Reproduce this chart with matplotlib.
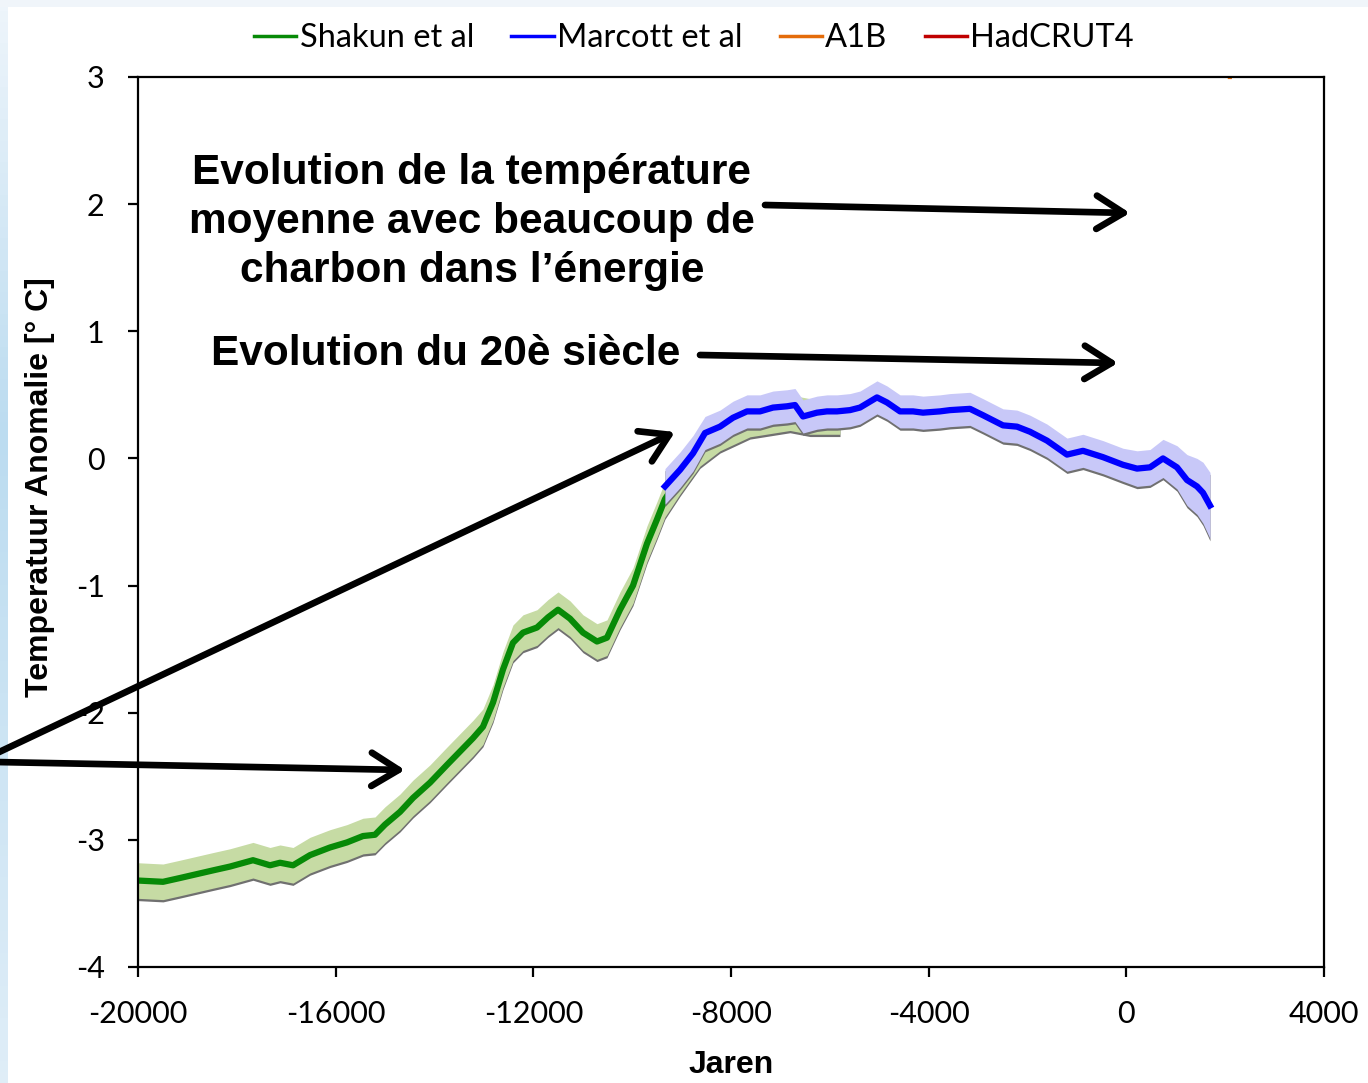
import numpy as np
import matplotlib
matplotlib.use("Agg")
import matplotlib.pyplot as plt

plt.rcParams['axes.unicode_minus'] = False

# Shakun et al reconstruction (year, anomaly)
shakun_years = [-20000, -19494, -19150, -18482, -18138, -17673, -17329, -17126, -16863,
                -16519, -16115, -15771, -15447, -15204, -15002, -14698, -14435, -14091,
                -13747, -13221, -13019, -12816, -12614, -12412, -12209, -11926, -11703,
                -11500, -11258, -10995, -10712, -10510, -10246, -9983, -9700, -9498,
                -9336, -9032, -8627, -8223, -7616, -6806, -6401, -5794]
shakun_temp = [-3.32, -3.33, -3.30, -3.24, -3.21, -3.16, -3.20, -3.18, -3.20,
               -3.12, -3.06, -3.02, -2.97, -2.96, -2.88, -2.78, -2.67, -2.55,
               -2.41, -2.20, -2.11, -1.92, -1.66, -1.45, -1.37, -1.33, -1.25,
               -1.19, -1.26, -1.37, -1.44, -1.41, -1.19, -1.00, -0.67, -0.48,
               -0.32, -0.14, 0.08, 0.20, 0.31, 0.36, 0.33, 0.33]
shakun_err = 0.14

# Marcott et al reconstruction (year, anomaly, 1-sigma)
marcott_years = [-9336, -9032, -8769, -8526, -8223, -7960, -7676, -7413, -7150, -6867,
                 -6705, -6543, -6260, -6058, -5855, -5592, -5390, -5046, -4843, -4580,
                 -4317, -4115, -3771, -3568, -3164, -2901, -2496, -2213, -1950, -1605,
                 -1201, -877, -472, -68, 216, 479, 742, 1025, 1228, 1430, 1551, 1693]
marcott_temp = [-0.22, -0.09, 0.04, 0.20, 0.25, 0.32, 0.37, 0.37, 0.40, 0.41,
                0.42, 0.33, 0.36, 0.37, 0.37, 0.38, 0.40, 0.48, 0.44, 0.37,
                0.37, 0.36, 0.37, 0.38, 0.39, 0.34, 0.26, 0.25, 0.21, 0.14,
                0.03, 0.06, 0.01, -0.05, -0.08, -0.07, 0.00, -0.07, -0.17, -0.22,
                -0.27, -0.37]
marcott_err = [0.14, 0.14, 0.14, 0.13, 0.13, 0.13, 0.13, 0.13, 0.13, 0.13,
               0.13, 0.13, 0.13, 0.13, 0.13, 0.13, 0.13, 0.13, 0.13, 0.13,
               0.13, 0.13, 0.13, 0.13, 0.13, 0.13, 0.13, 0.13, 0.13, 0.13,
               0.13, 0.13, 0.13, 0.13, 0.14, 0.14, 0.15, 0.17, 0.20, 0.22,
               0.24, 0.26]

# A1B scenario only touches the top edge of the plot
a1b_years = [2095, 2100]
a1b_temp = [3.0, 3.4]
hadcrut_years = []
hadcrut_temp = []

x_ticks = [-20000, -16000, -12000, -8000, -4000, 0, 4000]
y_ticks = [-4, -3, -2, -1, 0, 1, 2, 3]

W, H = 1368, 1083
fig = plt.figure(figsize=(W / 100, H / 100), dpi=100)
fig.patch.set_facecolor('white')

# slide background strips
bg = fig.add_axes([0, 0, 8 / W, 1])
grad = np.concatenate([np.linspace(0, 1, 40), np.linspace(1, 0.3, 60)])[:, None]
bg.imshow(grad, aspect='auto', cmap=matplotlib.colors.LinearSegmentedColormap.from_list(
    'bgb', ['#eef5fb', '#bcdcf0']), extent=[0, 1, 0, 1])
bg.axis('off')
top = fig.add_axes([0, 1 - 7 / H, 1, 7 / H])
top.axis('off')
top.add_patch(plt.Rectangle((0, 0), 1, 1, color='#f0f5fa', transform=top.transAxes))

ax = fig.add_axes([138 / W, 1 - 967 / H, 1186 / W, 890 / H])

sy = np.array(shakun_years)
st = np.array(shakun_temp)
my = np.array(marcott_years)
mt = np.array(marcott_temp)
me = np.array(marcott_err)

# thin drop shadow under the uncertainty bands
ax.fill_between(sy, st - shakun_err - 0.018, st + shakun_err - 0.018,
                color='#707070', lw=0, zorder=1)
ax.fill_between(sy, st - shakun_err, st + shakun_err, color='#c6dba4', lw=0, zorder=2)
l1, = ax.plot(sy, st, color='#078a07', lw=4.5, zorder=3, solid_joinstyle='round',
              label='Shakun et al')

ax.fill_between(my, mt - me - 0.018, mt + me - 0.018, color='#707070', lw=0, zorder=4)
ax.fill_between(my, mt - me, mt + me, color='#c8c8f8', lw=0, zorder=5)
l2, = ax.plot(my, mt, color='#0000ff', lw=4.5, zorder=6, solid_joinstyle='round',
              label='Marcott et al')

l3, = ax.plot(a1b_years, a1b_temp, color='#e46c0a', lw=3, zorder=7, label='A1B')
l4, = ax.plot(hadcrut_years, hadcrut_temp, color='#c00000', lw=3, label='HadCRUT4')

ax.set_xlim(-20000, 4000)
ax.set_ylim(-4, 3)
ax.set_xticks(x_ticks)
ax.set_yticks(y_ticks)
for s in ax.spines.values():
    s.set_linewidth(1.6)
    s.set_color('black')
    s.set_zorder(8)
ax.tick_params(direction='out', length=7, width=1.6, labelsize=22, colors='black')
ax.tick_params(axis='x', pad=17)
ax.tick_params(axis='y', pad=17)
for lab in ax.get_xticklabels() + ax.get_yticklabels():
    lab.set_family('Lato')

fig.text(40 / W, 1 - 487 / H, 'Temperatuur Anomalie [° C]', rotation=90,
         ha='center', va='center', fontsize=23, fontweight='bold',
         family='Liberation Sans')
fig.text(731 / W, 1 - 1065 / H, 'Jaren', ha='center', va='center', fontsize=23,
         fontweight='bold', family='Liberation Sans')

leg = fig.legend([l1, l2, l3, l4], ['Shakun et al', 'Marcott et al', 'A1B', 'HadCRUT4'],
                 loc='center', bbox_to_anchor=(694 / W, 1 - 38 / H), ncol=4,
                 frameon=False, handlelength=1.3, handletextpad=0.1,
                 columnspacing=1.14, prop={'family': 'Lato', 'size': 23.5})
for h in leg.get_lines():
    h.set_linewidth(2.5)

# annotations
fig.text(472 / W, 1 - 222 / H,
         'Evolution de la température\nmoyenne avec beaucoup de\ncharbon dans l\u2019énergie',
         ha='center', va='center', fontsize=30.5, fontweight='bold',
         family='Liberation Sans', linespacing=1.28, zorder=20)
fig.text(446 / W, 1 - 354 / H, 'Evolution du 20è siècle', ha='center', va='center',
         fontsize=30.5, fontweight='bold', family='Liberation Sans', zorder=20)


def arrow(x0, y0, x1, y1):
    ax.annotate('', xy=(x1, H - y1), xytext=(x0, H - y0),
                xycoords='figure pixels', textcoords='figure pixels',
                arrowprops=dict(arrowstyle='->,head_length=0.65,head_width=0.4',
                                lw=4.8, color='black', mutation_scale=30,
                                shrinkA=0, shrinkB=0),
                annotation_clip=False, zorder=20)


arrow(-5, 754, 675, 432)
arrow(-5, 762, 405, 770)
arrow(765, 205, 1130, 213)
arrow(700, 355, 1118, 363)

fig.savefig('out.png', dpi=100)
